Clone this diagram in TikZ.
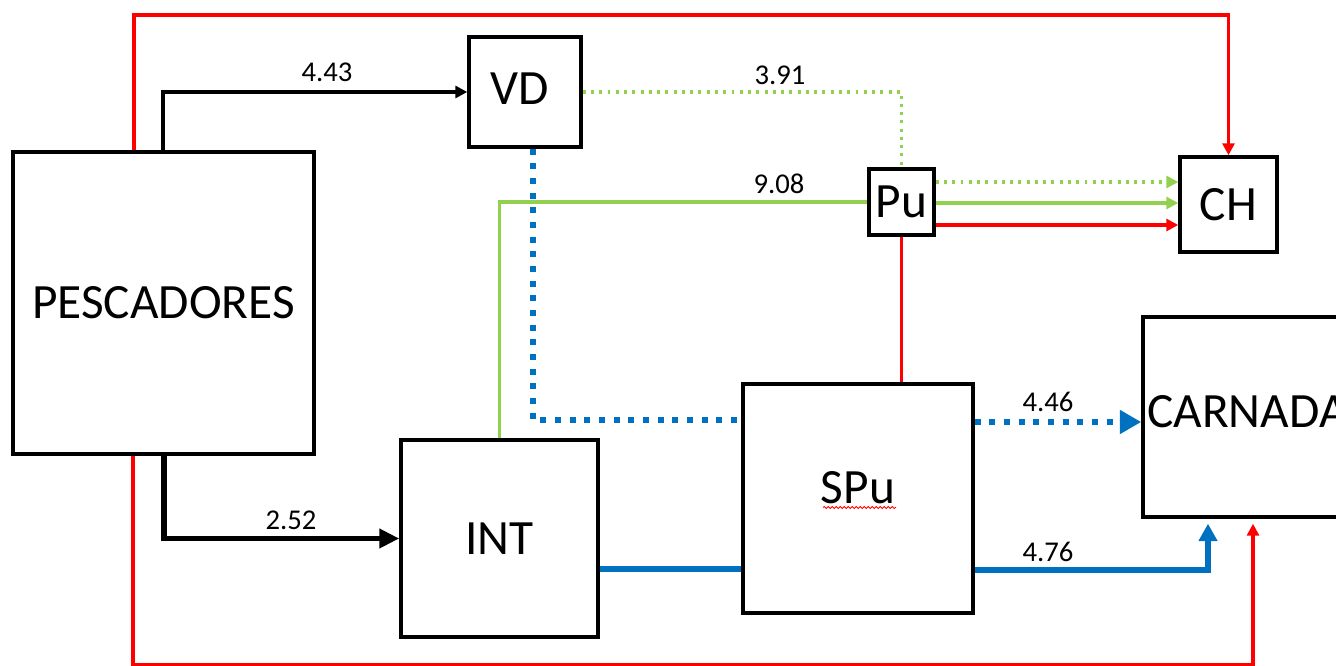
\documentclass[tikz,border=0pt]{standalone}
\usepackage{fontspec}
\setmainfont{Carlito}
\usetikzlibrary{arrows.meta,decorations.pathmorphing,calc}
\definecolor{myred}{RGB}{255,0,0}
\definecolor{mygreen}{RGB}{146,208,80}
\definecolor{myblue}{RGB}{0,112,192}
\begin{document}
\begin{tikzpicture}[x=0.75pt,y=-0.75pt,
  box/.style={draw=black,line width=2.6pt,inner sep=0pt,font=\fontsize{37}{40}\selectfont},
  num/.style={font=\fontsize{21.5}{24}\selectfont,inner sep=0pt},
  redl/.style={draw=myred,line width=2.3pt},
  blk/.style={draw=black,line width=2.3pt},
  blkthick/.style={draw=black,line width=3.8pt},
  gsol/.style={draw=mygreen,line width=2.6pt},
  gdot/.style={draw=mygreen,line width=2.3pt,dash pattern=on 2.2pt off 4pt},
  bdot/.style={draw=myblue,line width=4.5pt,dash pattern=on 4.5pt off 6.5pt},
  bsol/.style={draw=myblue,line width=3.8pt},
  tipS/.style={-{Triangle[length=9pt,width=9pt]}},
  tipL/.style={-{Triangle[length=15pt,width=14pt]}},
  tipB/.style={-{Triangle[length=16pt,width=17pt]}},
]
\useasboundingbox (0,0) rectangle (1336,666);
\clip (0,0) rectangle (1336,666);
% boxes
\node[box,minimum width=226pt,minimum height=226.5pt] (pesc) at (163.5,303) {PESCADORES};
\node[box,minimum width=84pt,minimum height=82.5pt] (vd) at (525,92) {};
\node[font=\fontsize{37}{40}\selectfont,inner sep=0pt] (vdl) at (520,89) {VD};
\node[box,minimum width=48.75pt,minimum height=49.5pt] (pu) at (901.5,202) {Pu};
\node[box,minimum width=72.75pt,minimum height=71.25pt] (ch) at (1228.5,204.5) {CH};
\node[box,minimum width=147.75pt,minimum height=147.75pt] (int) at (499.5,538.5) {INT};
\node[box,minimum width=172.5pt,minimum height=171.75pt] (spu) at (858,498.5) {};
\node[font=\fontsize{37}{40}\selectfont,inner sep=0pt] (spul) at (858,488) {SPu};
\draw[myred,line width=0.6pt,decorate,decoration={snake,amplitude=0.8pt,segment length=3pt}] (823,507.5) -- (896,507.5);
\node[box,minimum width=155.25pt,minimum height=150pt] (carn) at (1246.5,417) {};
\node[font=\fontsize{37}{40}\selectfont,inner sep=0pt,anchor=west] (carnl) at (1147,412) {CARNADA};
% helper coordinates
\coordinate (rt) at (134,15);
\coordinate (rb) at (133,665);
\coordinate (rb2) at (1253,665);
\coordinate (b1) at (163,92);
\coordinate (k) at (164,537);
\coordinate (bd) at (533,420);
\coordinate (y182) at (0,182);
\coordinate (y203) at (0,203);
\coordinate (y225) at (0,225);
\coordinate (y422) at (0,422);
\coordinate (y569) at (0,569);
\coordinate (bs) at (1208,570);
% connectors
\draw[redl,tipS] (pesc.north -| rt) -- (rt) -| (ch.north);
\draw[redl,tipS,shorten >=3.75pt] (pesc.south -| rb) -- (rb) -- (rb2) -- (carn.south -| rb2);
\draw[blk,tipS] (pesc.north -| b1) |- (vd.west);
\draw[blkthick,tipL] (pesc.south -| k) |- (int.west);
\draw[gdot] (vd.east) -| (pu.north);
\draw[gsol] (int.north) |- (pu.west);
\draw[gdot,tipS] (pu.east |- y182) -- (ch.west |- y182);
\draw[gsol,tipS] (pu.east |- y203) -- (ch.west |- y203);
\draw[redl,tipS] (pu.east |- y225) -- (ch.west |- y225);
\draw[redl] (pu.south) -- (pu.south |- spu.north);
\draw[bdot] (vd.south -| bd) |- (spu.west |- bd);
\draw[bdot,tipB] (spu.east |- y422) -- (carn.west |- y422);
\draw[bsol] (int.east |- y569) -- (spu.west |- y569);
\draw[bsol,tipS,shorten >=3.75pt,-{Triangle[length=13pt,width=13.5pt]}] (spu.east |- bs) -| (carn.south -| bs);
% labels
\node[num] (t443) at (327,72) {4.43};
\node[num] (t391) at (780,75) {3.91};
\node[num] (t908) at (779,184) {9.08};
\node[num] (t252) at (291,520) {2.52};
\node[num] (t446) at (1048,402) {4.46};
\node[num] (t476) at (1048,552) {4.76};
\end{tikzpicture}
\end{document}
